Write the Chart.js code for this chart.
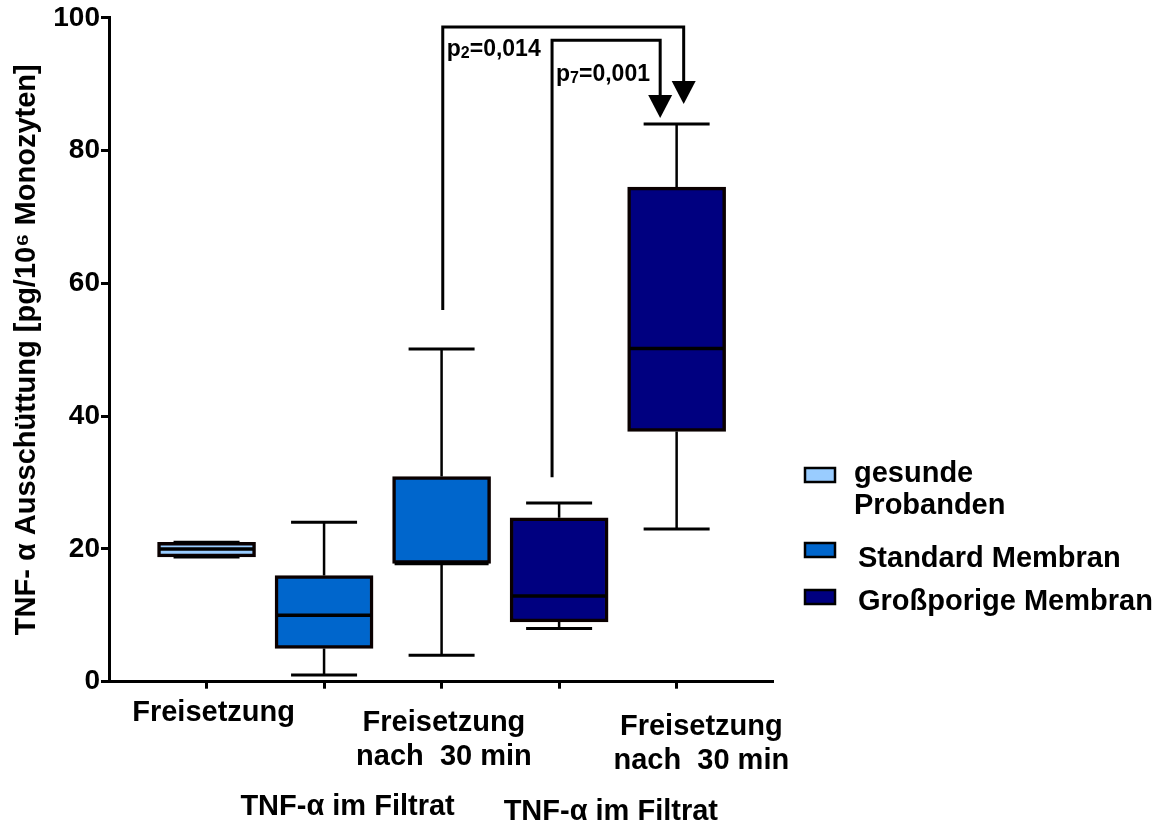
<!DOCTYPE html>
<html>
<head>
<meta charset="utf-8">
<script src="https://cdn.jsdelivr.net/npm/chart.js@4.4.1/dist/chart.umd.min.js"></script>
<style>
  html, body { margin: 0; padding: 0; background: #fff; }
  #wrap { position: relative; width: 1167px; height: 823px; }
</style>
</head>
<body>
<div id="wrap"><canvas id="tnfChart"></canvas></div>
<script>
// Data (TNF-alpha, pg/10^6 monocytes)
const seriesNames = [["gesunde", "Probanden"], ["Standard Membran"], ["Großporige Membran"]];
const seriesColors = ["#99ccff", "#0066cc", "#000080"];
const boxSeries = [0, 1, 1, 2, 2];          // series index of each box
const boxMin = [18.8, 1, 4, 8, 23];
const boxQ1 = [18.8, 5, 17.8, 9, 37.7];
const boxMedian = [20, 10, 17.8, 12.9, 50.2];
const boxQ3 = [21, 16, 30.9, 24.7, 74.5];
const boxMax = [21, 24, 50.1, 26.9, 84];
const yTicks = [0, 20, 40, 60, 80, 100];

// labels under the axis
const groupLabels = [["Freisetzung"], ["Freisetzung", "nach  30 min"], ["Freisetzung", "nach  30 min"]];
const groupAt = [1.06, 3.02, 5.21];
const filtratLabels = ["TNF-\u03b1 im Filtrat", "TNF-\u03b1 im Filtrat"];
const filtratAt = [2.2, 4.44];

// significance brackets (p values)
const sigSub = ["2", "7"];
const sigText = ["=0,014", "=0,001"];
const sigFromX = [3.01, 3.94];
const sigFromY = [56, 30.8];
const sigTopY = [98.6, 96.6];
const sigToX = [5.06, 4.86];
const sigTipY = [87, 84.9];
const sigLabelY = [94.2, 90.5];

const FONT = '"Liberation Sans", Arial, Helvetica, sans-serif';

// one floating bar dataset per series, the box spans q1..q3
const datasets = seriesNames.map((name, s) => ({
  label: name.join(' '),
  data: boxSeries.map((bs, i) => bs === s ? {x: i + 1, y: [boxQ1[i], boxQ3[i]]} : null).filter(d => d),
  backgroundColor: seriesColors[s],
  borderColor: '#0a0000',
  borderWidth: 3.5,
  borderSkipped: false,
  barThickness: 98,
  grouped: false
}));

const whiskerPlugin = {
  id: 'whiskers',
  afterDatasetsDraw(chart) {
    const {ctx, scales: {x, y}} = chart;
    ctx.save();
    ctx.strokeStyle = '#000';
    boxQ1.forEach((q, i) => {
      const cx = x.getPixelForValue(i + 1);
      ctx.lineWidth = 2.5;
      ctx.beginPath();
      ctx.moveTo(cx, y.getPixelForValue(boxQ3[i]));
      ctx.lineTo(cx, y.getPixelForValue(boxMax[i]));
      ctx.moveTo(cx, y.getPixelForValue(q));
      ctx.lineTo(cx, y.getPixelForValue(boxMin[i]));
      ctx.stroke();
      ctx.lineWidth = 3;
      ctx.beginPath();
      ctx.moveTo(cx - 33, y.getPixelForValue(boxMax[i]));
      ctx.lineTo(cx + 33, y.getPixelForValue(boxMax[i]));
      ctx.moveTo(cx - 33, y.getPixelForValue(boxMin[i]));
      ctx.lineTo(cx + 33, y.getPixelForValue(boxMin[i]));
      ctx.stroke();
      ctx.lineWidth = 3.5;
      ctx.beginPath();
      ctx.moveTo(cx - 47, y.getPixelForValue(boxMedian[i]));
      ctx.lineTo(cx + 47, y.getPixelForValue(boxMedian[i]));
      ctx.stroke();
    });
    ctx.restore();
  }
};

const annotationPlugin = {
  id: 'annotations',
  afterDraw(chart) {
    const {ctx, chartArea, scales: {x, y}} = chart;
    ctx.save();
    ctx.fillStyle = '#000';
    ctx.strokeStyle = '#000';

    // brackets with arrows
    sigSub.forEach((sub, i) => {
      const x0 = x.getPixelForValue(sigFromX[i]);
      const x1 = x.getPixelForValue(sigToX[i]);
      const yt = y.getPixelForValue(sigTopY[i]);
      const tip = y.getPixelForValue(sigTipY[i]);
      ctx.lineWidth = 3;
      ctx.beginPath();
      ctx.moveTo(x0, y.getPixelForValue(sigFromY[i]));
      ctx.lineTo(x0, yt);
      ctx.lineTo(x1, yt);
      ctx.lineTo(x1, tip - 20);
      ctx.stroke();
      ctx.beginPath();
      ctx.moveTo(x1 - 12, tip - 23);
      ctx.lineTo(x1 + 12, tip - 23);
      ctx.lineTo(x1, tip);
      ctx.closePath();
      ctx.fill();

      const ly = y.getPixelForValue(sigLabelY[i]);
      let lx = x0 + 4;
      ctx.textAlign = 'left';
      ctx.textBaseline = 'alphabetic';
      ctx.font = 'bold 23px ' + FONT;
      ctx.fillText('p', lx, ly);
      lx += ctx.measureText('p').width;
      ctx.font = 'bold 16px ' + FONT;
      ctx.fillText(sub, lx, ly + 2);
      lx += ctx.measureText(sub).width;
      ctx.font = 'bold 23px ' + FONT;
      ctx.fillText(sigText[i], lx, ly);
    });

    // category labels under the axis
    ctx.font = 'bold 29px ' + FONT;
    ctx.textAlign = 'center';
    ctx.textBaseline = 'alphabetic';
    const baseOff = [39, 49, 53];
    groupLabels.forEach((lines, g) => {
      const cx = x.getPixelForValue(groupAt[g]);
      lines.forEach((t, k) => ctx.fillText(t, cx, chartArea.bottom + baseOff[g] + k * 34.5));
    });
    const filtOff = [133, 138];
    filtratLabels.forEach((t, k) => ctx.fillText(t, x.getPixelForValue(filtratAt[k]), chartArea.bottom + filtOff[k]));

    // legend
    const swatchY = [468, 543, 590];
    const textBase = [482, 567, 610];
    seriesNames.forEach((lines, s) => {
      ctx.fillStyle = seriesColors[s];
      ctx.fillRect(805, swatchY[s], 30, 14);
      ctx.lineWidth = 2.5;
      ctx.strokeRect(805, swatchY[s], 30, 14);
      ctx.fillStyle = '#000';
      ctx.textAlign = 'left';
      ctx.font = 'bold 29px ' + FONT;
      lines.forEach((t, k) => ctx.fillText(t, s === 0 ? 854 : 858, textBase[s] + k * 32));
    });
    ctx.restore();
  }
};

const config = {
  type: 'bar',
  data: { datasets: datasets },
  options: {
    responsive: true,
    maintainAspectRatio: false,
    animation: false,
    layout: { padding: { top: 17, right: 394, left: 0, bottom: 0 } },
    plugins: { legend: { display: false }, tooltip: { enabled: false } },
    scales: {
      x: {
        type: 'linear',
        offset: false,
        min: 0.17,
        max: 5.82,
        afterBuildTicks: s => { s.ticks = boxQ1.map((_, i) => ({ value: i + 1 })); },
        afterFit: s => { s.height = 141.3; },
        ticks: { display: false },
        grid: { offset: false, drawOnChartArea: false, tickLength: 7, tickWidth: 3, tickColor: '#000' },
        border: { color: '#000', width: 3 }
      },
      y: {
        min: 0,
        max: 100,
        afterBuildTicks: s => { s.ticks = yTicks.map(v => ({ value: v })); },
        afterFit: s => { s.width = 109; },
        ticks: { color: '#000', padding: 1, font: { family: FONT, size: 28, weight: 'bold' } },
        grid: { drawOnChartArea: false, tickLength: 8, tickWidth: 3, tickColor: '#000' },
        border: { color: '#000', width: 3 },
        title: {
          display: true,
          text: 'TNF- \u03b1 Aussch\u00fcttung [pg/10\u2076 Monozyten]',
          color: '#000',
          padding: { top: 10, bottom: 0 },
          font: { family: FONT, size: 29, weight: 'bold' }
        }
      }
    }
  },
  plugins: [whiskerPlugin, annotationPlugin]
};

const tnfChart = new Chart(document.getElementById('tnfChart'), config);
</script>
</body>
</html>
